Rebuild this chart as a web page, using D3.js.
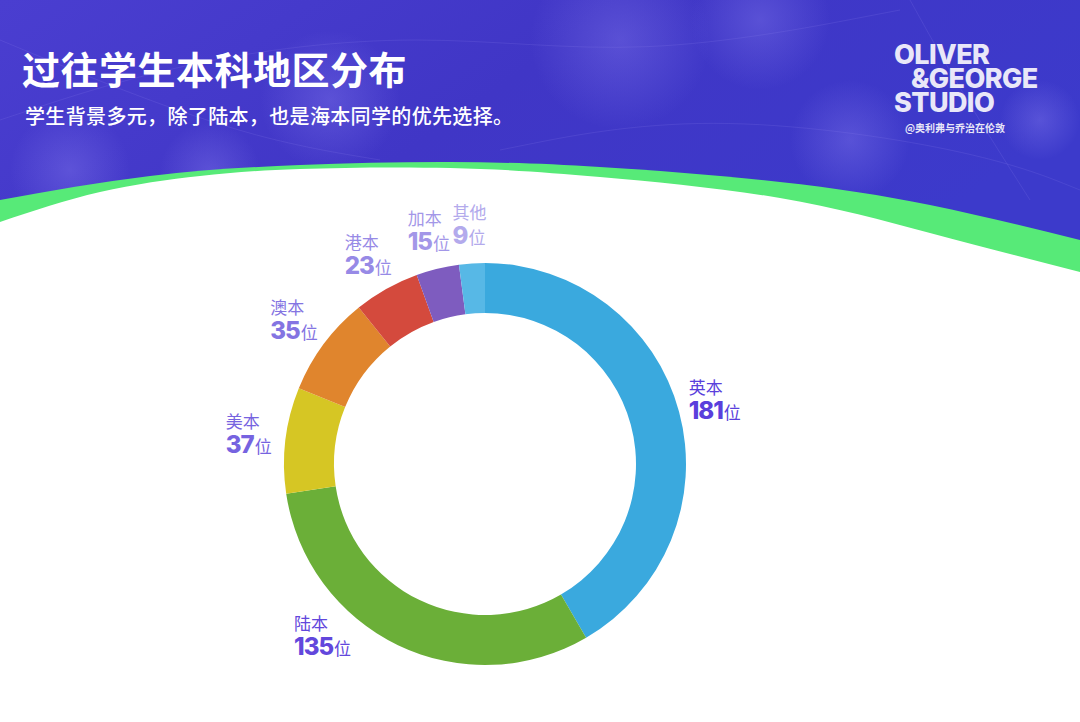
<!DOCTYPE html>
<meta charset="utf-8">
<html>
<head>
<style>
  body { margin: 0; background: #fff; }
  svg { display: block; }
</style>
</head>
<body>
<script src="https://cdn.jsdelivr.net/npm/d3@7"></script>
<script>
  var W = 1080, H = 722;

  // data
  var regions = ["英本", "陆本", "美本", "澳本", "港本", "加本", "其他"];
  var students = [181, 135, 37, 35, 23, 15, 9];
  var unit = "位";

  var sliceColors = ["#3aa9de", "#6baf38", "#d6c624", "#e0852d", "#d44a3d", "#7e5cbf", "#57b8e6"];
  var labelColors = ["#5a3fdc", "#6247dc", "#7663e0", "#8474e2", "#978ae6", "#a397e8", "#b3aaec"];

  var title = "过往学生本科地区分布";
  var subtitle = "学生背景多元，除了陆本，也是海本同学的优先选择。";

  var svg = d3.select("body").append("svg")
    .attr("width", W)
    .attr("height", H);

  var defs = svg.append("defs");

  var bg = defs.append("linearGradient").attr("id", "hdr")
    .attr("x1", 0).attr("y1", 0).attr("x2", 1).attr("y2", 0.4);
  bg.append("stop").attr("offset", 0).attr("stop-color", "#4a3ed0");
  bg.append("stop").attr("offset", 0.5).attr("stop-color", "#4036c6");
  bg.append("stop").attr("offset", 1).attr("stop-color", "#3c3acb");

  var glow = defs.append("radialGradient").attr("id", "glow");
  glow.append("stop").attr("offset", 0).attr("stop-color", "#8a80f0").attr("stop-opacity", 0.35);
  glow.append("stop").attr("offset", 1).attr("stop-color", "#8a80f0").attr("stop-opacity", 0);

  // header band
  svg.append("rect")
    .attr("width", W).attr("height", 300)
    .attr("fill", "url(#hdr)");

  // soft light spots in the header
  [[70, 170, 60], [210, 172, 50], [620, 40, 90], [760, 20, 70], [850, 140, 60], [1040, 120, 40], [330, 100, 70]]
    .forEach(function(g) {
      svg.append("circle")
        .attr("cx", g[0]).attr("cy", g[1]).attr("r", g[2])
        .attr("fill", "url(#glow)");
    });

  // faint network lines
  var net = svg.append("g")
    .attr("stroke", "#8f88ee")
    .attr("stroke-opacity", 0.22)
    .attr("stroke-width", 0.8)
    .attr("fill", "none");
  [[[0, 120], [180, 60], [420, 30], [640, 60], [900, 10]],
   [[500, 150], [700, 110], [980, 150], [1080, 190]],
   [[910, 0], [960, 90], [1030, 200]],
   [[0, 40], [120, 90], [260, 140], [380, 160]]]
    .forEach(function(pts) {
      net.append("path").attr("d", d3.line().curve(d3.curveBasis)(pts));
    });

  // green band and white body
  var edge = d3.line().curve(d3.curveNatural);
  var greenTop = [[0, 200], [150, 176], [300, 165], [450, 162], [600, 167], [780, 182], [930, 205], [1080, 240]];
  var whiteTop = [[0, 222], [100, 192], [200, 176], [300, 169], [450, 168], [600, 177], [780, 198], [930, 233], [1080, 272]];

  svg.append("path")
    .attr("d", edge(greenTop) + "L" + W + "," + H + "L0," + H + "Z")
    .attr("fill", "#57ea78");
  svg.append("path")
    .attr("d", edge(whiteTop) + "L" + W + "," + H + "L0," + H + "Z")
    .attr("fill", "#ffffff");

  // titles
  svg.append("text")
    .attr("x", 22).attr("y", 84)
    .attr("fill", "#ffffff")
    .style("font-family", "'Noto Sans CJK SC'")
    .style("font-weight", 700)
    .style("font-size", "38px")
    .style("letter-spacing", "0.5px")
    .text(title);

  svg.append("text")
    .attr("x", 25).attr("y", 124)
    .attr("fill", "#ffffff")
    .style("font-family", "'Noto Sans CJK SC'")
    .style("font-weight", 500)
    .style("font-size", "20px")
    .style("letter-spacing", "0.35px")
    .text(subtitle);

  // logo block
  var logo = svg.append("g")
    .attr("fill", "#e9e7f8")
    .style("font-family", "Inter")
    .style("font-weight", 800)
    .style("font-size", "27px")
    .style("letter-spacing", "-0.6px");
  logo.append("text").attr("x", 894).attr("y", 64).text("OLIVER");
  logo.append("text").attr("x", 911).attr("y", 88).text("&GEORGE");
  logo.append("text").attr("x", 894).attr("y", 112).text("STUDIO");
  svg.append("text")
    .attr("x", 905).attr("y", 132)
    .attr("fill", "#e9e7f8")
    .style("font-family", "'Noto Sans CJK SC'")
    .style("font-weight", 700)
    .style("font-size", "10px")
    .text("@奥利弗与乔治在伦敦");

  // donut
  var cx = 485, cy = 464, rOut = 201, rIn = 151, rLabel = 238, labelMaxY = 638;

  var pie = d3.pie().sort(null).value(function(d) { return d; });
  var arcs = pie(students);
  var arc = d3.arc().innerRadius(rIn).outerRadius(rOut);

  var chart = svg.append("g").attr("transform", "translate(" + cx + "," + cy + ")");

  chart.selectAll("path.slice")
    .data(arcs)
    .enter().append("path")
      .attr("class", "slice")
      .attr("d", arc)
      .attr("fill", function(d, i) { return sliceColors[i]; });

  // labels sit on a circle around the ring, kept above the bottom margin
  var labels = chart.selectAll("g.lbl")
    .data(arcs)
    .enter().append("g")
      .attr("class", "lbl");

  labels.append("text")
    .attr("y", -8)
    .attr("fill", function(d, i) { return labelColors[i]; })
    .style("font-family", "'Noto Sans CJK SC'")
    .style("font-size", "17px")
    .text(function(d, i) { return regions[i]; });

  var num = labels.append("text")
    .attr("y", 17)
    .attr("fill", function(d, i) { return labelColors[i]; });
  num.append("tspan")
    .style("font-family", "Inter")
    .style("font-weight", 800)
    .style("font-size", "24px")
    .style("letter-spacing", "-1px")
    .text(function(d) { return d.value; });
  num.append("tspan")
    .attr("dx", 1)
    .style("font-family", "'Noto Sans CJK SC'")
    .style("font-size", "17px")
    .text(unit);

  labels.attr("transform", function(d) {
    var a = (d.startAngle + d.endAngle) / 2;
    var x = rLabel * Math.sin(a), y = -rLabel * Math.cos(a);
    if (cy + y > labelMaxY) {
      y = labelMaxY - cy;
      var dx = Math.sqrt(Math.max(0, rLabel * rLabel - y * y));
      x = x < 0 ? -dx : dx;
    }
    var w = this.getBBox().width;
    return "translate(" + (x - w / 2) + "," + y + ")";
  });
</script>
</body>
</html>
